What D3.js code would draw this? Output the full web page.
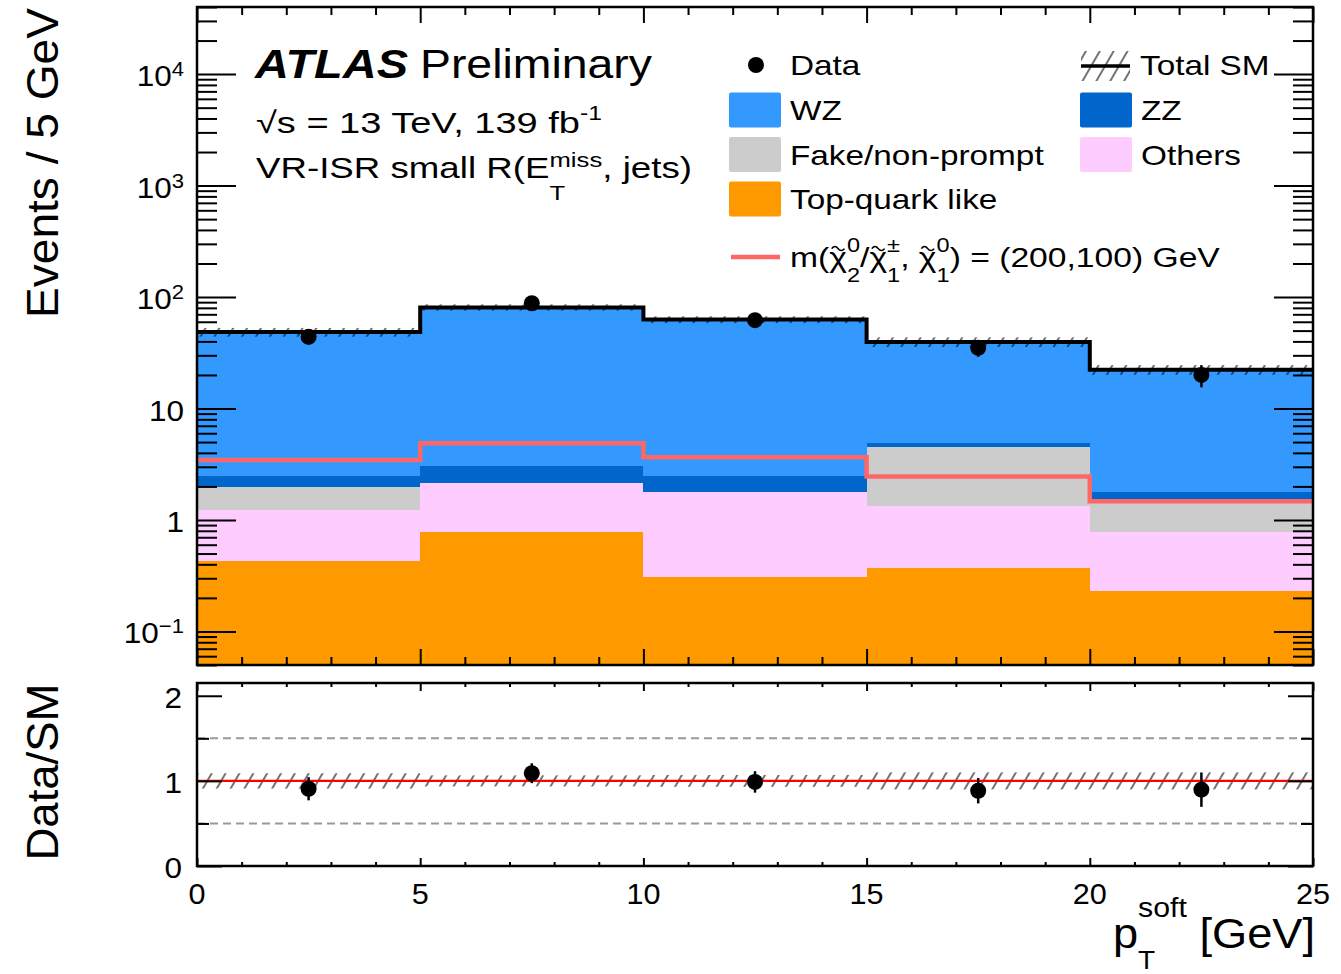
<!DOCTYPE html>
<html>
<head>
<meta charset="utf-8">
<script src="https://cdn.jsdelivr.net/npm/d3@7"></script>
<style>
  html, body { margin: 0; padding: 0; background: #fff; }
  svg text { font-family: "Liberation Sans", Arial, Helvetica, sans-serif; fill: #000; white-space: pre; }
</style>
</head>
<body>
<svg id="chart" width="1341" height="974"></svg>
<script>
// ---- binned p_T^soft distribution (events per 5 GeV) ----
const binEdges   = [0, 5, 10, 15, 20, 25];
const topQuark   = [0.43, 0.78, 0.31, 0.37, 0.23];
const othersBkg  = [0.80, 1.38, 1.49, 0.97, 0.55];
const fakeBkg    = [0.76, 0.00, 0.00, 3.21, 0.74];
const zzBkg      = [0.49, 0.89, 0.68, 0.33, 0.28];
const wzBkg      = [46.0, 77.7, 60.3, 34.7, 20.5];
const signalMC   = [3.46, 4.88, 3.65, 2.45, 1.47];
const dataCounts = [44, 88, 62, 35, 20];
const dataErr    = [6.6, 9.4, 7.9, 5.9, 4.5];
const smRelUnc   = [0.09, 0.065, 0.07, 0.10, 0.10];

// ---- axis ticks ----
const xMajorTicks  = [0, 5, 10, 15, 20, 25];
const yMajorTicks  = [1e4, 1e3, 1e2, 10, 1, 0.1];
const yMajorLabels = [["10", "4"], ["10", "3"], ["10", "2"], ["10", ""], ["1", ""], ["10", "\u22121"]];
const rMajorTicks  = [0, 1, 2];
const rMinorTicks  = [0.5, 1.5];

const svg = d3.select("#chart");
const X0 = 197, X1 = 1313, MT = 7, MB = 665, RT = 683, RB = 866;

const x  = d3.scaleLinear().domain([0, 25]).range([X0, X1]);
const y  = d3.scaleLog().domain([0.05, 4e4]).range([MB, MT]);
const yr = d3.scaleLinear().domain([0, 2.15]).range([RB, RT]);

const defs = svg.append("defs");
defs.append("clipPath").attr("id", "clipMain").append("rect")
  .attr("x", X0).attr("y", MT).attr("width", X1 - X0).attr("height", MB - MT);
defs.append("clipPath").attr("id", "clipRatio").append("rect")
  .attr("x", X0).attr("y", RT).attr("width", X1 - X0).attr("height", RB - RT);
const pat = defs.append("pattern").attr("id", "hatch")
  .attr("patternUnits", "userSpaceOnUse").attr("width", 12).attr("height", 12)
  .attr("patternTransform", "rotate(30)");
pat.append("line").attr("x1", 6).attr("y1", 0).attr("x2", 6).attr("y2", 12)
  .attr("stroke", "#000").attr("stroke-width", 1.1);

// ---- rich text helper (sub/superscripts, tildes, horizontal fit) ----
function richText(parent, px, py, segs, o = {}) {
  const size = o.size || 28;
  const outer = parent.append("g")
    .attr("transform", `translate(${px},${py})` + (o.rotate ? ` rotate(${o.rotate})` : ""));
  const inner = outer.append("g");
  let cx = 0;
  const put = (s, at) => {
    const t = inner.append("text").attr("x", at).attr("y", s.dy || 0)
      .attr("font-size", size * (s.s || 1)).text(s.t);
    if (o.weight) t.attr("font-weight", o.weight);
    if (o.style) t.attr("font-style", o.style);
    return t.node().getComputedTextLength();
  };
  segs.forEach(s => {
    if (s.stack) {
      const w1 = put(s.stack[0], cx), w2 = put(s.stack[1], cx);
      cx += Math.max(w1, w2);
    } else {
      const w = put(s, cx);
      if (s.tilde) {
        // small wave drawn over the glyph
        const q = w * 0.18, x0 = cx + w * 0.14, yb = -size * 0.66;
        inner.append("path")
          .attr("d", `M${x0},${yb} q${q},-4 ${2 * q},0 t${2 * q},0`)
          .attr("fill", "none").attr("stroke", "#000").attr("stroke-width", 1.4);
      }
      cx += w;
    }
  });
  const sx = o.width ? o.width / cx : (o.sx || 1);
  const a = o.anchor || "start";
  const off = a === "end" ? -cx * sx : a === "middle" ? -cx * sx / 2 : 0;
  inner.attr("transform", `translate(${off},0) scale(${sx},1)`);
  return outer;
}

// ---- stacked backgrounds ----
const bins = d3.range(5).map(i => ({
  lo: binEdges[i], hi: binEdges[i + 1],
  top: topQuark[i], others: othersBkg[i], fake: fakeBkg[i], zz: zzBkg[i], wz: wzBkg[i],
  sig: signalMC[i], data: dataCounts[i], err: dataErr[i], unc: smRelUnc[i]
}));
const keys = ["top", "others", "fake", "zz", "wz"];
const colors = { top: "#ff9900", others: "#ffccff", fake: "#cccccc", zz: "#0066cc", wz: "#3399ff" };
const layers = d3.stack().keys(keys)(bins);
bins.forEach(b => { b.total = d3.sum(keys, k => b[k]); });

const floorY = v => y(Math.max(v, 0.05));
const gMain = svg.append("g").attr("clip-path", "url(#clipMain)");
gMain.selectAll("g.layer").data(layers).join("g").attr("class", "layer")
  .attr("fill", d => colors[d.key])
  .selectAll("rect").data(d => d).join("rect")
  .attr("shape-rendering", "crispEdges")
  .attr("x", d => x(d.data.lo)).attr("width", d => x(d.data.hi) - x(d.data.lo))
  .attr("y", d => floorY(d[1]))
  .attr("height", d => floorY(d[0]) - floorY(d[1]));

// SM uncertainty band
gMain.selectAll("rect.band").data(bins).join("rect").attr("class", "band")
  .attr("x", d => x(d.lo)).attr("width", d => x(d.hi) - x(d.lo))
  .attr("y", d => y(d.total * (1 + d.unc)))
  .attr("height", d => y(d.total * (1 - d.unc)) - y(d.total * (1 + d.unc)))
  .attr("fill", "url(#hatch)");

// step lines: total SM and signal
const stepLine = acc => d3.line().curve(d3.curveStepAfter)
  .x(d => x(d[0])).y(d => y(d[1]))(bins.map(b => [b.lo, acc(b)]).concat([[25, acc(bins[4])]]));
gMain.append("path").attr("d", stepLine(b => b.sig))
  .attr("fill", "none").attr("stroke", "#ff6666").attr("stroke-width", 4.5);
gMain.append("path").attr("d", stepLine(b => b.total))
  .attr("fill", "none").attr("stroke", "#000").attr("stroke-width", 4);

// data points
const gData = svg.append("g");
gData.selectAll("line").data(bins).join("line")
  .attr("x1", d => x((d.lo + d.hi) / 2)).attr("x2", d => x((d.lo + d.hi) / 2))
  .attr("y1", d => y(d.data - d.err)).attr("y2", d => y(d.data + d.err))
  .attr("stroke", "#000").attr("stroke-width", 2.5);
gData.selectAll("circle").data(bins).join("circle")
  .attr("cx", d => x((d.lo + d.hi) / 2)).attr("cy", d => y(d.data)).attr("r", 8);

// ---- main panel axes ----
const logTicks = [];
for (let e = -2; e <= 4; e++) for (let k = 1; k <= 9; k++) {
  const v = k * Math.pow(10, e);
  if (v >= 0.05 * 0.999 && v <= 4e4 * 1.001) logTicks.push(v);
}
const yMinor = logTicks.filter(v => !yMajorTicks.some(m => Math.abs(m - v) / m < 1e-6));
const xMinor = d3.range(0, 26).filter(v => v % 5 !== 0);

function ticks(axisFn, scale, vals, len, tx, ty) {
  svg.append("g").attr("transform", `translate(${tx},${ty})`)
    .call(axisFn(scale).tickValues(vals).tickSize(-len).tickFormat(""))
    .call(g => g.select(".domain").remove())
    .call(g => g.selectAll("line").attr("stroke-width", 2));
}
ticks(d3.axisLeft, y, yMinor, 20, X0, 0);
ticks(d3.axisLeft, y, yMajorTicks, 39, X0, 0);
ticks(d3.axisRight, y, yMinor, 20, X1, 0);
ticks(d3.axisRight, y, yMajorTicks, 39, X1, 0);
ticks(d3.axisTop, x, xMinor, 8, 0, MT);
ticks(d3.axisTop, x, xMajorTicks, 16, 0, MT);
ticks(d3.axisBottom, x, xMinor, 8, 0, MB);
ticks(d3.axisBottom, x, xMajorTicks, 16, 0, MB);

// ---- ratio panel ----
const gRatio = svg.append("g").attr("clip-path", "url(#clipRatio)");
gRatio.selectAll("rect.band").data(bins).join("rect").attr("class", "band")
  .attr("x", d => x(d.lo)).attr("width", d => x(d.hi) - x(d.lo))
  .attr("y", d => yr(1 + d.unc)).attr("height", d => yr(1 - d.unc) - yr(1 + d.unc))
  .attr("fill", "url(#hatch)");
gRatio.selectAll("line.dash").data(rMinorTicks).join("line").attr("class", "dash")
  .attr("x1", X0).attr("x2", X1).attr("y1", d => yr(d)).attr("y2", d => yr(d))
  .attr("stroke", "#999").attr("stroke-width", 2).attr("stroke-dasharray", "8,5");
gRatio.append("line").attr("x1", X0).attr("x2", X1).attr("y1", yr(1)).attr("y2", yr(1))
  .attr("stroke", "#ff0000").attr("stroke-width", 2.2);
gRatio.selectAll("line.err").data(bins).join("line").attr("class", "err")
  .attr("x1", d => x((d.lo + d.hi) / 2)).attr("x2", d => x((d.lo + d.hi) / 2))
  .attr("y1", d => yr((d.data - d.err) / d.total)).attr("y2", d => yr((d.data + d.err) / d.total))
  .attr("stroke", "#000").attr("stroke-width", 2.5);
gRatio.selectAll("circle").data(bins).join("circle")
  .attr("cx", d => x((d.lo + d.hi) / 2)).attr("cy", d => yr(d.data / d.total)).attr("r", 8);

ticks(d3.axisLeft, yr, rMinorTicks, 12, X0, 0);
ticks(d3.axisLeft, yr, rMajorTicks, 25, X0, 0);
ticks(d3.axisRight, yr, rMinorTicks, 12, X1, 0);
ticks(d3.axisRight, yr, rMajorTicks, 25, X1, 0);
ticks(d3.axisTop, x, xMinor, 4, 0, RT);
ticks(d3.axisTop, x, xMajorTicks, 8, 0, RT);
ticks(d3.axisBottom, x, xMinor, 4, 0, RB);
ticks(d3.axisBottom, x, xMajorTicks, 8, 0, RB);

// frames
[[MT, MB], [RT, RB]].forEach(([t, b]) => {
  svg.append("rect").attr("x", X0).attr("y", t).attr("width", X1 - X0).attr("height", b - t)
    .attr("fill", "none").attr("stroke", "#000").attr("stroke-width", 2.5);
});

// ---- tick labels ----
yMajorTicks.forEach((v, i) => {
  const [base, exp] = yMajorLabels[i];
  const segs = [{ t: base }];
  if (exp) segs.push({ t: exp, s: 0.7, dy: -10 });
  richText(svg, 184, y(v) + 12, segs, { size: 30, anchor: "end", sx: 1.05 });
});
rMajorTicks.forEach(v => richText(svg, 182, yr(v) + 12, [{ t: String(v) }], { size: 30, anchor: "end", sx: 1.05 }));
xMajorTicks.forEach(v => richText(svg, x(v), 904, [{ t: String(v) }], { size: 30, anchor: "middle", sx: 1.02 }));

// ---- axis titles ----
richText(svg, 58, 8, [{ t: "Events / 5 GeV" }], { size: 44, rotate: -90, anchor: "end", width: 310 });
richText(svg, 58, 772, [{ t: "Data/SM" }], { size: 44, rotate: -90, anchor: "middle", width: 177 });
richText(svg, 1315, 948, [
  { t: "p" },
  { stack: [{ t: "soft", s: 0.67, dy: -31 }, { t: "T", s: 0.62, dy: 21 }] },
  { t: " [GeV]" }
], { size: 42, anchor: "end", width: 202 });

// ---- labels ----
richText(svg, 255, 78, [{ t: "ATLAS" }], { size: 40, weight: "bold", style: "italic", width: 153 });
richText(svg, 420, 78, [{ t: "Preliminary" }], { size: 40, width: 232 });
richText(svg, 256, 133, [{ t: "\u221As = 13 TeV, 139 fb" }, { t: "-1", s: 0.65, dy: -13 }], { size: 30, width: 346 });
richText(svg, 256, 178, [
  { t: "VR-ISR small R(E" },
  { stack: [{ t: "miss", s: 0.7, dy: -11 }, { t: "T", s: 0.7, dy: 22 }] },
  { t: ", jets)" }
], { size: 30, width: 436 });

// ---- legend ----
const lg = svg.append("g");
const legSx = 1.19;
lg.append("circle").attr("cx", 756).attr("cy", 65).attr("r", 8);
richText(lg, 790, 75, [{ t: "Data" }], { size: 28, sx: legSx });
const boxes = [
  { key: "wz", label: "WZ", bx: 729, cy: 110 },
  { key: "fake", label: "Fake/non-prompt", bx: 729, cy: 154.5 },
  { key: "top", label: "Top-quark like", bx: 729, cy: 199 },
  { key: "zz", label: "ZZ", bx: 1080, cy: 110 },
  { key: "others", label: "Others", bx: 1080, cy: 154.5 }
];
boxes.forEach(b => {
  lg.append("rect").attr("x", b.bx).attr("y", b.cy - 17.5).attr("width", 52).attr("height", 35)
    .attr("rx", 2).attr("fill", colors[b.key]);
  richText(lg, b.bx + 61, b.cy + 10, [{ t: b.label }], { size: 28, sx: legSx });
});
lg.append("rect").attr("x", 1081).attr("y", 51).attr("width", 49).attr("height", 30).attr("fill", "url(#hatch)");
lg.append("line").attr("x1", 1081).attr("x2", 1130).attr("y1", 66).attr("y2", 66)
  .attr("stroke", "#000").attr("stroke-width", 3.5);
richText(lg, 1140, 75, [{ t: "Total SM" }], { size: 28, sx: legSx });

lg.append("line").attr("x1", 731).attr("x2", 780).attr("y1", 257).attr("y2", 257)
  .attr("stroke", "#ff6666").attr("stroke-width", 4.5);
richText(lg, 790, 267, [
  { t: "m(" }, { t: "\u03C7", tilde: true },
  { stack: [{ t: "0", s: 0.7, dy: -15 }, { t: "2", s: 0.7, dy: 15 }] },
  { t: "/" }, { t: "\u03C7", tilde: true },
  { stack: [{ t: "\u00B1", s: 0.7, dy: -15 }, { t: "1", s: 0.7, dy: 15 }] },
  { t: ", " }, { t: "\u03C7", tilde: true },
  { stack: [{ t: "0", s: 0.7, dy: -15 }, { t: "1", s: 0.7, dy: 15 }] },
  { t: ") = (200,100) GeV" }
], { size: 28, width: 430 });
</script>
</body>
</html>
